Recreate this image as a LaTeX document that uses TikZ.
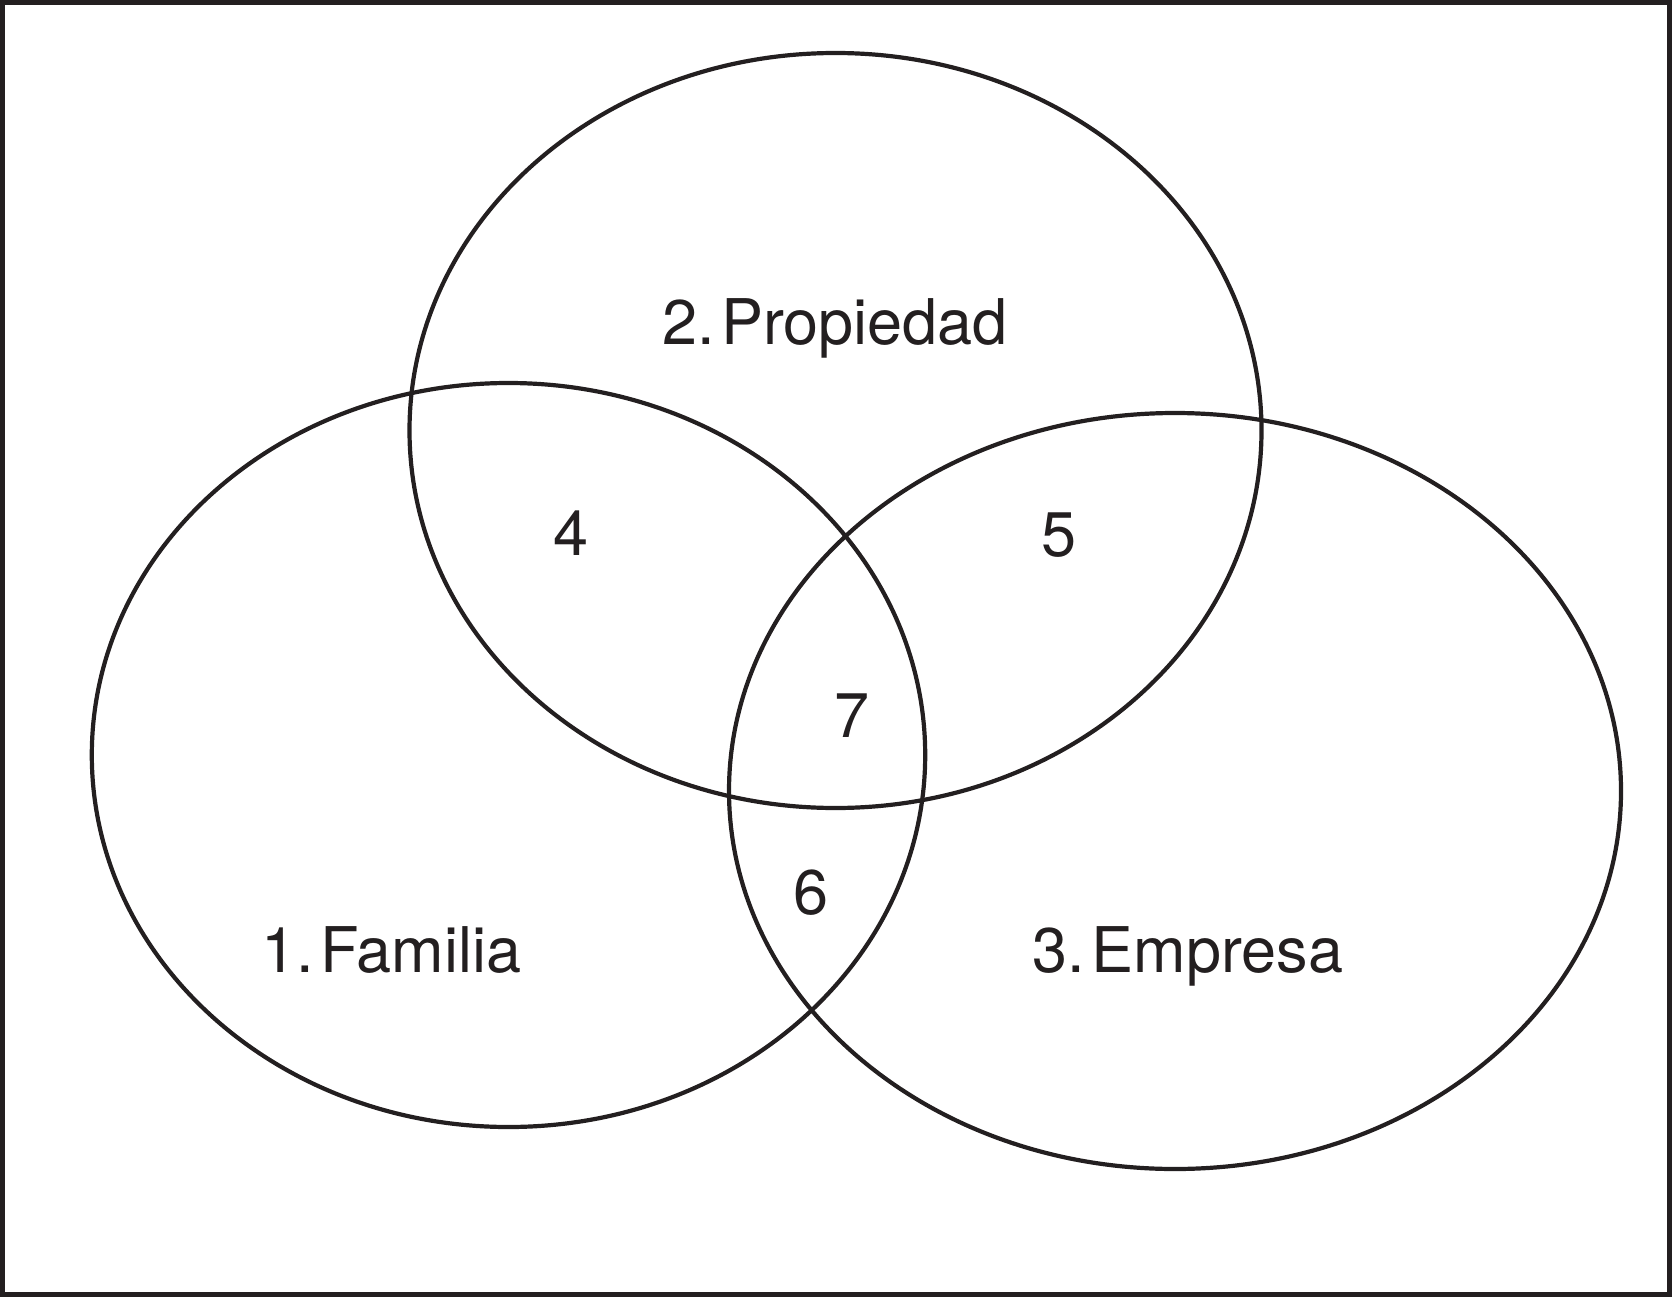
\documentclass[tikz,border=0pt]{standalone}
\usepackage{fontspec}
\setmainfont{TeX Gyre Heros}
\definecolor{ink}{HTML}{231F20}
\newcommand{\tsp}{\hspace{0.1em}}
\begin{document}
\begin{tikzpicture}[x=1pt,y=-1pt,
  venn/.style={draw=ink,line width=4.2pt},
  lbl/.style={inner sep=0pt,anchor=base,text=ink,font=\fontsize{63}{70}\selectfont}]
\useasboundingbox (0,0) rectangle (1672,1297);
\draw[ink,line width=5pt] (2.5,2.5) rectangle (1669.5,1294.5);
\coordinate (cf) at (508.5,755);
\coordinate (cp) at (835.5,430.5);
\coordinate (ce) at (1175,791);
\draw[venn] (cf) ellipse [x radius=416.7pt, y radius=372pt];
\draw[venn] (cp) ellipse [x radius=426pt, y radius=377.5pt];
\draw[venn] (ce) ellipse [x radius=446pt, y radius=378pt];
\node[lbl] (prop) at (835,344) {2.\tsp Propiedad};
\node[lbl] (fam) at (391.5,972) {1.\tsp Familia};
\node[lbl] (emp) at (1188,972) {3.\tsp Empresa};
\node[lbl] (n4) at (571,555) {4};
\node[lbl] (n5) at (1059,556) {5};
\node[lbl] (n7) at (852,737) {7};
\node[lbl] (n6) at (811,914) {6};
\end{tikzpicture}
\end{document}
